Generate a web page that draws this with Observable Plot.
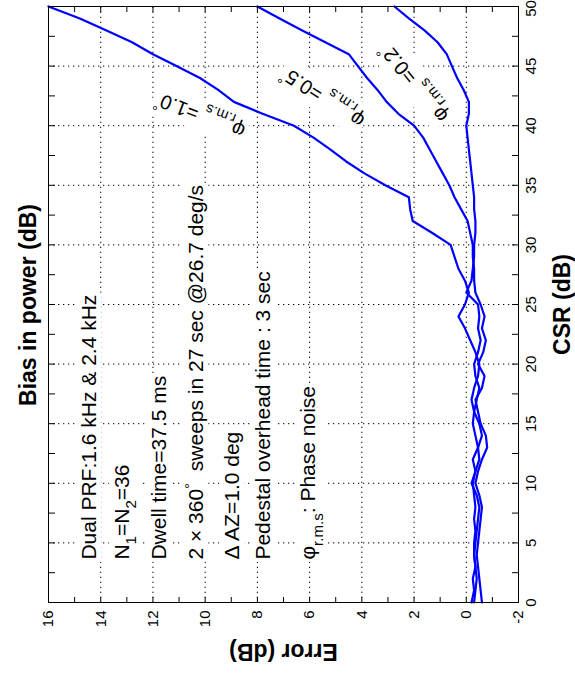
<!DOCTYPE html>
<html><head><meta charset="utf-8">
<script src="https://cdn.jsdelivr.net/npm/d3@7"></script>
<script src="https://cdn.jsdelivr.net/npm/@observablehq/plot@0.6"></script>
<style>
html,body{margin:0;padding:0;background:#fff;overflow:hidden;width:575px;height:675px;}
#fig{position:absolute;left:0;top:0;width:675px;height:575px;transform-origin:0 0;transform:translate(0px,675px) rotate(-90deg);background:#fff;font-family:"Liberation Sans",Arial,Helvetica,sans-serif;}
#fig svg{position:absolute;left:0;top:0;z-index:0;}
#title{position:absolute;left:220px;width:300px;top:13px;line-height:30px;text-align:center;font-size:23px;font-weight:bold;color:#000;z-index:2;}
</style></head><body>
<div id="fig"><div id="title">Bias in power (dB)</div></div>
<script>
// CSR (dB) sample points
const csr = [0,1,2,3,4,5,6,7,8,9,10,11,12,13,14,15,16,17,18,19,20,21,22,23,24,25,26,27,28,29,30,31,32,33,34,35,36,37,38,39,40,41,42,43,44,45,46,47,48,49,50];
// Error (dB) for phi_rms = 1.0 deg
const err10 = [-0.3,-0.35,-0.4,-0.35,-0.3,-0.35,-0.4,-0.45,-0.5,-0.4,
 -0.2,-0.35,-0.5,-0.45,-0.35,-0.25,-0.3,-0.2,-0.3,-0.45,
 -0.5,-0.35,-0.15,0.05,0.3,0.05,-0.1,0.05,0.3,0.45,
 0.6,1.3,2.05,2.15,2.2,3.1,3.9,4.6,5.2,5.85,
 6.6,7.8,8.9,9.5,10.2,11.1,12.0,12.8,13.8,14.8,
 16.0];
// Error (dB) for phi_rms = 0.5 deg
const err05 = [-0.6,-0.55,-0.5,-0.45,-0.4,-0.45,-0.5,-0.55,-0.6,-0.5,
 -0.35,-0.45,-0.6,-0.8,-0.75,-0.55,-0.45,-0.35,-0.6,-0.7,
 -0.45,-0.65,-0.75,-0.6,-0.7,-0.55,-0.35,-0.3,-0.3,-0.25,
 -0.25,-0.15,-0.05,0.2,0.45,0.65,0.9,1.15,1.4,1.65,
 2.0,2.6,3.05,3.4,3.8,4.15,4.5,5.4,6.3,7.15,
 8.0];
// Error (dB) for phi_rms = 0.2 deg
const err02 = [-0.2,-0.3,-0.25,-0.35,-0.3,-0.3,-0.35,-0.3,-0.35,-0.3,
 -0.25,-0.35,-0.25,-0.45,-0.6,-0.5,-0.3,-0.4,-0.5,-0.35,
 -0.3,-0.45,-0.55,-0.45,-0.5,-0.45,0.0,-0.2,-0.25,-0.3,
 -0.3,-0.35,-0.35,-0.3,-0.3,-0.25,-0.2,-0.15,-0.1,-0.05,
 0.0,-0.1,-0.1,0.1,0.35,0.55,0.75,1.1,1.6,2.2,
 2.75];
const seriesNames = ["1.0", "0.5", "0.2"];
const seriesValues = [err10, err05, err02];

// ticks
const csrTicks = [0,5,10,15,20,25,30,35,40,45,50];
const csrMinor = [0,2.5,5,7.5,10,12.5,15,17.5,20,22.5,25,27.5,30,32.5,35,37.5,40,42.5,45,47.5,50];
const csrGrid = [5,10,15,20,25,30,35,40,45];
const errTicks = [-2,0,2,4,6,8,10,12,14,16];
const errMinor = [-2,-1,0,1,2,3,4,5,6,7,8,9,10,11,12,13,14,15,16];
const errGrid = [0,2,4,6,8,10,12,14];

// annotation texts ({_x} subscript, {^x} superscript)
const notes = ["Dual PRF:1.6 kHz & 2.4 kHz", "N{_1}=N{_2}=36", "Dwell time=37.5 ms",
  "2 × 360{^°}  sweeps in 27 sec @26.7 deg/s", "Δ AZ=1.0 deg", "Pedestal overhead time : 3 sec",
  "φ{_r.m.s}: Phase noise"];
const noteErr = [14.43, 13.18, 11.77, 10.33, 8.95, 7.77, 6.04];
const noteCsr = [3.6, 3.6, 3.6, 3.6, 3.6, 3.6, 3.6];

const curveLabels = ["φ{_r.m.s} =1.0{^°}", "φ{_r.m.s} =0.5{^°}", "φ{_r.m.s} =0.2{^°}"];
const curveLabelCsr = [40.9, 42.4, 43.6];
const curveLabelErr = [10.2, 5.5, 2.0];
const curveLabelAngle = [-69, -57, -39];

const rows = seriesNames.flatMap((s, i) => csr.map((c, j) => ({s, csr: c, err: seriesValues[i][j]})));
const noteRows = notes.map((t, i) => ({t, x: noteCsr[i], y: noteErr[i]}));
const labelRows = curveLabels.map((t, i) => ({t, x: curveLabelCsr[i], y: curveLabelErr[i], a: curveLabelAngle[i]}));
const fmt = d => String(d);
const blank = () => "";
const font = '"Liberation Sans",Arial,Helvetica,sans-serif';
const dots = "1.3,3.7";

const svg = Plot.plot({
  width: 675, height: 575,
  marginLeft: 72, marginRight: 7, marginTop: 48, marginBottom: 57,
  x: {domain: [0, 50]},
  y: {domain: [-2, 16]},
  style: {fontFamily: font, fontSize: "15px", background: "white", color: "black", overflow: "visible"},
  marks: [
    Plot.gridX(csrGrid, {stroke: "black", strokeOpacity: 1, strokeWidth: 1, strokeDasharray: dots}),
    Plot.gridY(errGrid, {stroke: "black", strokeOpacity: 1, strokeWidth: 1, strokeDasharray: dots}),
    Plot.line(rows, {x: "csr", y: "err", z: "s", stroke: "#0000ff", strokeWidth: 2.2}),
    Plot.text(noteRows, {x: "x", y: "y", text: "t", textAnchor: "start", lineAnchor: "middle", fontSize: 21, fill: "black"}),
    Plot.text(labelRows, {x: "x", y: "y", text: "t", rotate: "a", textAnchor: "middle", lineAnchor: "middle", fontSize: 20, fill: "black"}),
    Plot.frame({stroke: "black", strokeWidth: 1}),
    Plot.axisX(csrMinor, {anchor: "bottom", tickSize: 6, dy: -6, tickFormat: blank, label: null}),
    Plot.axisX(csrMinor, {anchor: "top", tickSize: 6, dy: 6, tickFormat: blank, label: null}),
    Plot.axisX(csrTicks.slice(0, -1), {anchor: "bottom", tickSize: 0, tickPadding: 7, tickFormat: fmt, fontSize: 15, label: null}),
    Plot.axisX(csrTicks.slice(-1), {anchor: "bottom", tickSize: 0, tickPadding: 7, tickFormat: fmt, fontSize: 15, label: null, dx: -2}),
    Plot.axisY(errMinor, {anchor: "left", tickSize: 6, dx: 6, tickFormat: blank, label: null}),
    Plot.axisY(errMinor, {anchor: "right", tickSize: 6, dx: -6, tickFormat: blank, label: null}),
    Plot.axisY(errTicks, {anchor: "left", tickSize: 0, tickPadding: 8, tickFormat: fmt, fontSize: 15, label: null}),
    Plot.text(["CSR (dB)"], {text: d => d, frameAnchor: "bottom", textAnchor: "middle", lineAnchor: "middle", dy: 44, fontSize: 23, fontWeight: "bold", fill: "black"}),
    Plot.text(["Error (dB)"], {text: d => d, frameAnchor: "left", textAnchor: "middle", lineAnchor: "middle", dx: -49, rotate: -90, fontSize: 23, fontWeight: "bold", fill: "black"})
  ]
});
document.getElementById("fig").appendChild(svg);

const boxed = new Set([...notes, ...curveLabels]);

// rich text: subscripts / superscripts
function richify(el) {
  const raw = el.textContent;
  if (boxed.has(raw)) el.classList.add("boxed");
  if (!/\{[_^]/.test(raw)) return;
  const fs = parseFloat(getComputedStyle(el).fontSize) || 16;
  const re = /\{([_^])([^}]*)\}/g;
  const parts = [];
  let last = 0, m;
  while ((m = re.exec(raw))) {
    if (m.index > last) parts.push({t: raw.slice(last, m.index)});
    parts.push({t: m[2], k: m[1]});
    last = re.lastIndex;
  }
  if (last < raw.length) parts.push({t: raw.slice(last)});
  while (el.firstChild) el.removeChild(el.firstChild);
  let shift = 0;
  for (const p of parts) {
    const ts = document.createElementNS("http://www.w3.org/2000/svg", "tspan");
    const target = p.k === "_" ? fs * 0.35 : p.k === "^" ? -fs * 0.4 : 0;
    ts.setAttribute("dy", (target - shift).toFixed(2));
    shift = target;
    if (p.k) ts.setAttribute("font-size", (fs * 0.72).toFixed(1));
    ts.textContent = p.t;
    el.appendChild(ts);
  }
}
d3.select(svg).selectAll("text").each(function() { richify(this); });

// white boxes behind annotations (cover the grid like the original)
d3.select(svg).selectAll("text.boxed").each(function() {
  const b = this.getBBox();
  const r = document.createElementNS("http://www.w3.org/2000/svg", "rect");
  r.setAttribute("x", b.x - 2); r.setAttribute("y", b.y - 1);
  r.setAttribute("width", b.width + 4); r.setAttribute("height", b.height + 2);
  r.setAttribute("fill", "white"); r.setAttribute("stroke", "none");
  const tr = this.getAttribute("transform");
  if (tr) r.setAttribute("transform", tr);
  this.parentNode.insertBefore(r, this);
});
</script></body></html>
